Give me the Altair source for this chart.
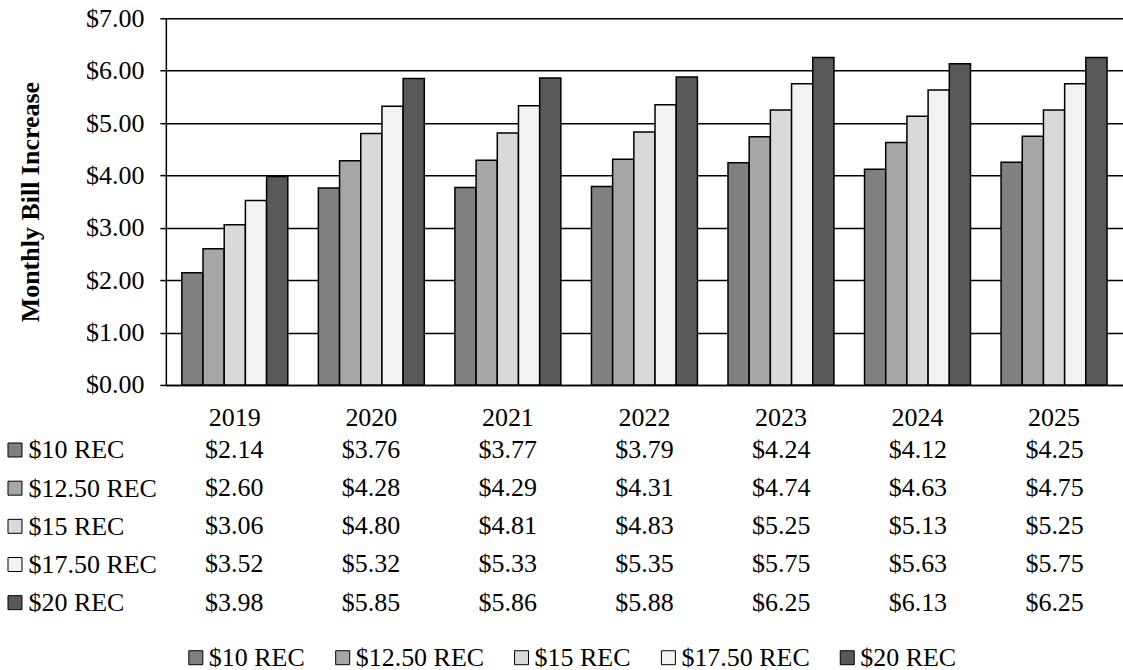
import altair as alt
import pandas as pd

years = ["2019", "2020", "2021", "2022", "2023", "2024", "2025"]
series = ["$10 REC", "$12.50 REC", "$15 REC", "$17.50 REC", "$20 REC"]
v10 = [2.14, 3.76, 3.77, 3.79, 4.24, 4.12, 4.25]
v1250 = [2.60, 4.28, 4.29, 4.31, 4.74, 4.63, 4.75]
v15 = [3.06, 4.80, 4.81, 4.83, 5.25, 5.13, 5.25]
v1750 = [3.52, 5.32, 5.33, 5.35, 5.75, 5.63, 5.75]
v20 = [3.98, 5.85, 5.86, 5.88, 6.25, 6.13, 6.25]
colors = ["#808080", "#a6a6a6", "#d9d9d9", "#f2f2f2", "#595959"]

rows = []
for s, vals in zip(series, [v10, v1250, v15, v1750, v20]):
    for y, v in zip(years, vals):
        rows.append({"year": y, "series": s, "value": v})
df = pd.DataFrame(rows)
series_df = pd.DataFrame({"series": series})

FONT = "Liberation Serif"
FS = 26

color = alt.Color(
    "series:N",
    scale=alt.Scale(domain=series, range=colors),
    sort=series,
    legend=alt.Legend(
        title=None, orient="none", direction="horizontal",
        legendX=17, legendY=627,
        symbolType="square", symbolSize=196, symbolStrokeColor="black",
        symbolStrokeWidth=1, symbolOpacity=1,
        labelFontSize=FS, labelFont=FONT, labelColor="black", labelLimit=0,
        columnPadding=24, labelOffset=0,
    ),
)

xscale = alt.Scale(domain=years, paddingInner=0.224, paddingOuter=0.117)

bars = alt.Chart(df).mark_bar(stroke="black", strokeWidth=1.5).encode(
    x=alt.X("year:N", scale=xscale, title=None,
            axis=alt.Axis(labelAngle=0, ticks=False, labelPadding=20, domain=True,
                          domainColor="black", domainWidth=1.5, labelFontSize=FS,
                          labelFont=FONT, labelColor="black", grid=False)),
    xOffset=alt.XOffset("series:N", sort=series, scale=alt.Scale(domain=series)),
    y=alt.Y("value:Q", scale=alt.Scale(domain=[0, 7], nice=False),
            title="Monthly Bill Increase",
            axis=alt.Axis(values=[0, 1, 2, 3, 4, 5, 6, 7], format="$.2f",
                          tickSize=6, tickColor="black", tickWidth=1.5,
                          labelPadding=16, labelFontSize=FS, labelFont=FONT,
                          labelColor="black", domainColor="black", domainWidth=1.5,
                          grid=True, gridColor="black", gridWidth=1.5,
                          titleFont=FONT, titleFontSize=26, titleFontWeight="bold",
                          titleColor="black", titlePadding=42)),
    color=color,
).properties(width=958, height=367)

table_text = alt.Chart(df).mark_text(font=FONT, fontSize=FS, color="black").encode(
    x=alt.X("year:N", scale=alt.Scale(domain=years, paddingInner=0.224, paddingOuter=0.117), axis=None),
    y=alt.Y("series:N", sort=series, scale=alt.Scale(domain=series),
            title=None,
            axis=alt.Axis(labelAlign="left", labelPadding=138, ticks=False, tickSize=0,
                          domain=False, grid=False, labelFontSize=FS, labelFont=FONT,
                          labelColor="black", labelLimit=0)),
    text=alt.Text("value:Q", format="$.2f"),
)

swatches = alt.Chart(series_df).mark_point(
    shape="square", filled=True, size=196, stroke="black", strokeWidth=1, opacity=1
).encode(
    x=alt.value(-151),
    y=alt.Y("series:N", sort=series, scale=alt.Scale(domain=series)),
    color=color,
)

table = alt.layer(table_text, swatches).properties(width=958, height=191)

chart = alt.vconcat(bars, table, spacing=-2).properties(
    padding={"left": 6, "right": 0, "top": 5, "bottom": 0}
).configure(font=FONT).configure_view(strokeWidth=0, stroke=None)

chart.save("out.html", embed_options={"renderer": "svg", "actions": False})
